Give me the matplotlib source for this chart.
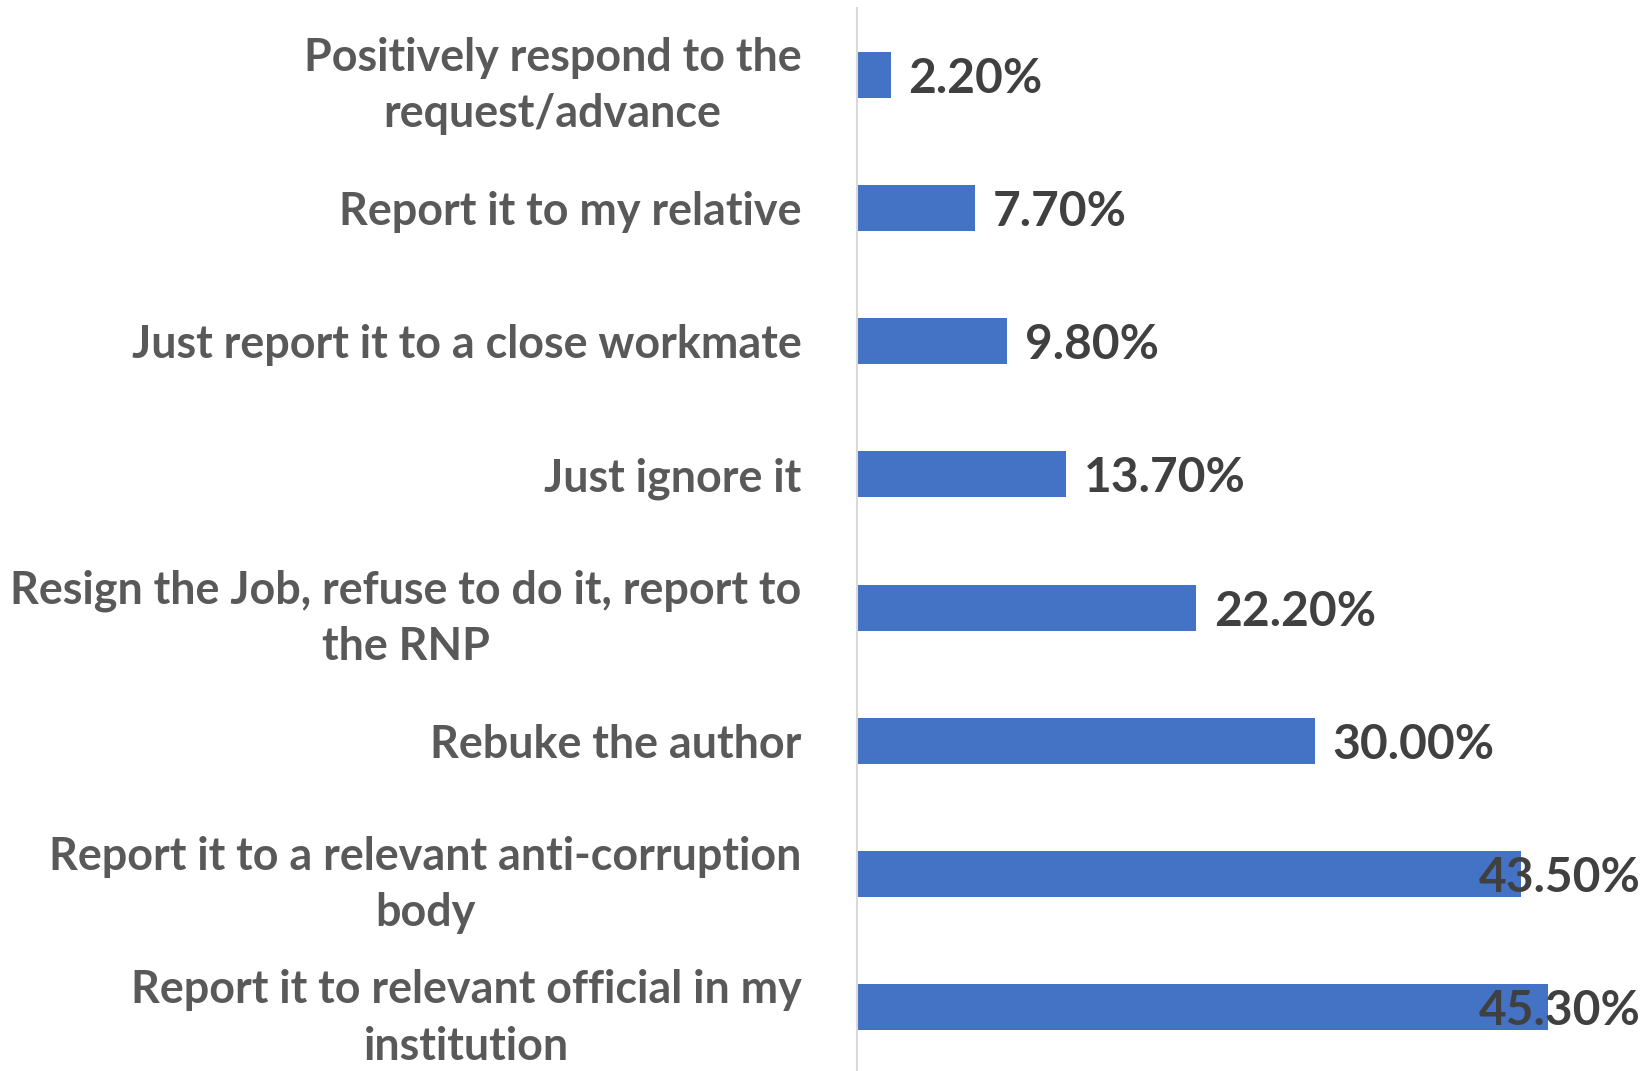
import matplotlib
matplotlib.use("Agg")
import matplotlib.pyplot as plt

# Survey responses (percent of respondents)
categories = [
    "Positively respond to the\nrequest/advance",
    "Report it to my relative",
    "Just report it to a close workmate",
    "Just ignore it",
    "Resign the Job, refuse to do it, report to\nthe RNP",
    "Rebuke the author",
    "Report it to a relevant anti-corruption\nbody",
    "Report it to relevant official in my\ninstitution",
]
values = [2.2, 7.7, 9.8, 13.7, 22.2, 30.0, 43.5, 45.3]
value_labels = ["2.20%", "7.70%", "9.80%", "13.70%", "22.20%", "30.00%", "43.50%", "45.30%"]

BAR_COLOR = "#4472C4"
LABEL_COLOR = "#595959"
VALUE_COLOR = "#404040"
FONT = ["Lato", "DejaVu Sans"]

W, H, DPI = 1646, 1071, 100
fig = plt.figure(figsize=(W / DPI, H / DPI), dpi=DPI)
fig.patch.set_facecolor("white")

ax_left = 857 / W
ax_bottom = -3 / H
ax_top = 1 - 8 / H
ax = fig.add_axes([ax_left, ax_bottom, 1 - ax_left, ax_top - ax_bottom])

y = list(range(len(categories)))
ax.barh(y, values, height=0.345, color=BAR_COLOR, zorder=2)
ax.set_ylim(len(categories) - 0.5, -0.5)
ax.set_xlim(0, 51.7)

ax.set_yticks(y)
ax.set_yticklabels(categories, fontfamily=FONT, fontweight="bold",
                   fontsize=32.3, color=LABEL_COLOR, multialignment="center",
                   linespacing=1.42)
ax.tick_params(axis="y", length=0, pad=40)
ax.set_xticks([])

for side in ("top", "right", "bottom"):
    ax.spines[side].set_visible(False)
ax.spines["left"].set_color("#D9D9D9")
ax.spines["left"].set_linewidth(1.5)

fig.canvas.draw()
renderer = fig.canvas.get_renderer()
right_limit = W - 5
for yi, v, lab in zip(y, values, value_labels):
    t = ax.annotate(lab, xy=(v, yi), xytext=(18, -4), textcoords="offset pixels",
                    va="center", ha="left", fontfamily=FONT, fontweight="bold",
                    fontsize=34.5, color=VALUE_COLOR, zorder=3)
    bb = t.get_window_extent(renderer)
    if bb.x1 > right_limit:
        # keep the label inside the figure
        t.xy = (1.0, yi)
        t.xycoords = ax.get_yaxis_transform()
        t.set_ha("right")
        t.set_position((-(W - right_limit), -4))

fig.savefig("out.png", dpi=DPI, facecolor="white")
